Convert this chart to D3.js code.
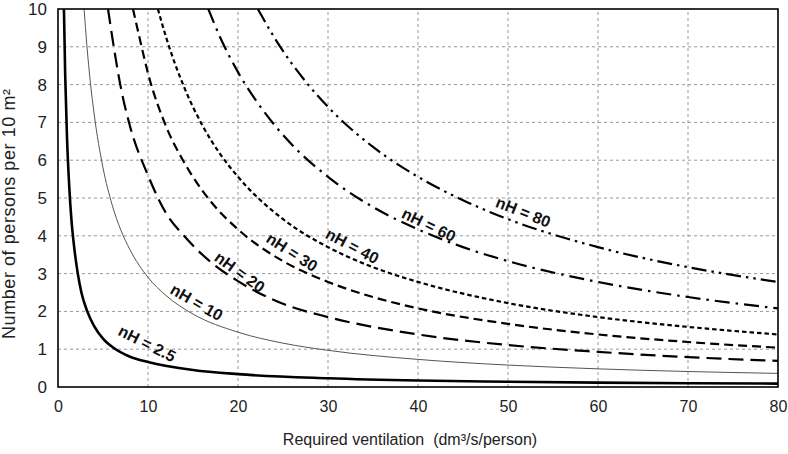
<!DOCTYPE html>
<html>
<head>
<meta charset="utf-8">
<script src="https://cdn.jsdelivr.net/npm/d3@7"></script>
<style>
  body { margin: 0; background: #fff; }
  text { font-family: Arial, "Liberation Sans", sans-serif; fill: #222; }
</style>
</head>
<body>
<div id="chart"></div>
<script>
// values (ventilation, persons per 10 m2)
var curveNames = ["2.5", "10", "20", "30", "40", "60", "80"];

var xs25 = [0.66, 0.8, 1, 1.25, 1.5, 1.75, 2.2, 2.6, 3.25, 4, 5, 6.2, 8, 10, 15, 20, 30, 40, 50, 60, 70, 80];
var ys25 = [10, 8.25, 6.6, 5.3, 4.4, 3.8, 3.0, 2.5, 2.0, 1.62, 1.28, 1.03, 0.8, 0.66, 0.45, 0.34, 0.23, 0.17, 0.14, 0.115, 0.1, 0.09];

var xs10 = [2.9, 3.2, 3.6, 4, 5, 6, 7, 8, 10, 12, 15, 20, 25, 30, 40, 50, 60, 70, 80];
var ys10 = [10, 9.06, 8.05, 7.25, 5.8, 4.83, 4.14, 3.63, 2.9, 2.42, 1.93, 1.45, 1.16, 0.97, 0.73, 0.58, 0.48, 0.41, 0.36];

var xs20 = [5.56, 6, 7, 8, 10, 12, 14, 17, 20, 25, 30, 40, 50, 60, 70, 80];
var ys20 = [10, 9.3, 7.9, 6.9, 5.6, 4.6, 4.0, 3.3, 2.8, 2.2, 1.85, 1.39, 1.11, 0.93, 0.79, 0.69];

var xs30 = [8.33, 9, 10, 12, 14, 17, 20, 25, 30, 35, 40, 50, 60, 70, 80];
var ys30 = [10, 9.3, 8.3, 6.9, 5.95, 4.9, 4.17, 3.33, 2.78, 2.38, 2.08, 1.67, 1.39, 1.19, 1.04];

var xs40 = [11.1, 12, 14, 16, 18, 20, 25, 30, 35, 40, 50, 60, 70, 80];
var ys40 = [10, 9.26, 7.94, 6.94, 6.17, 5.56, 4.44, 3.7, 3.17, 2.78, 2.22, 1.85, 1.59, 1.39];

var xs60 = [16.7, 18, 20, 23, 26, 30, 35, 40, 45, 50, 60, 70, 80];
var ys60 = [10, 9.26, 8.33, 7.25, 6.41, 5.56, 4.76, 4.17, 3.7, 3.33, 2.78, 2.38, 2.08];

var xs80 = [22.2, 24, 26, 28, 30, 35, 40, 45, 50, 60, 70, 80];
var ys80 = [10, 9.26, 8.55, 7.94, 7.41, 6.35, 5.56, 4.94, 4.44, 3.7, 3.17, 2.78];

var xTicks = [0, 10, 20, 30, 40, 50, 60, 70, 80];
var yTicks = [0, 1, 2, 3, 4, 5, 6, 7, 8, 9, 10];

// label centres (x value, y value) and text angle
var labelX = [9.9, 15.4, 20.2, 26.0, 32.7, 41.2, 51.7];
var labelY = [1.15, 2.24, 3.04, 3.57, 3.73, 4.29, 4.63];
var labelAngle = [27, 30, 36, 33, 28, 26, 22];

var w = 788, h = 454;
var margin = { left: 58, right: 10, top: 9, bottom: 67 };

var svg = d3.select("#chart").append("svg")
    .attr("width", w)
    .attr("height", h);

var x = d3.scaleLinear().domain([0, 80]).range([margin.left, w - margin.right]);
var y = d3.scaleLinear().domain([0, 10]).range([h - margin.bottom, margin.top]);

// grid
svg.append("g").selectAll("line")
    .data(xTicks.slice(1, -1))
    .enter().append("line")
    .attr("x1", function(d) { return x(d); })
    .attr("x2", function(d) { return x(d); })
    .attr("y1", y(0)).attr("y2", y(10))
    .attr("stroke", "#999").attr("stroke-width", 1)
    .attr("stroke-dasharray", "3,3");

svg.append("g").selectAll("line")
    .data(yTicks.slice(1, -1))
    .enter().append("line")
    .attr("y1", function(d) { return y(d); })
    .attr("y2", function(d) { return y(d); })
    .attr("x1", x(0)).attr("x2", x(80))
    .attr("stroke", "#999").attr("stroke-width", 1)
    .attr("stroke-dasharray", "3,3");

// curves
var series = [
    { xs: xs25, ys: ys25, width: 2.6, color: "#000", dash: null },
    { xs: xs10, ys: ys10, width: 1, color: "#555", dash: null },
    { xs: xs20, ys: ys20, width: 2.2, color: "#000", dash: "15,7" },
    { xs: xs30, ys: ys30, width: 2.2, color: "#000", dash: "9,5" },
    { xs: xs40, ys: ys40, width: 2.2, color: "#000", dash: "4.5,3" },
    { xs: xs60, ys: ys60, width: 2.2, color: "#000", dash: "15,6,2.5,6" },
    { xs: xs80, ys: ys80, width: 2.2, color: "#000", dash: "15,5,2.5,5,2.5,5" }
];

var line = d3.line()
    .x(function(d) { return x(d[0]); })
    .y(function(d) { return y(d[1]); })
    .curve(d3.curveMonotoneX);

svg.append("defs").append("clipPath").attr("id", "plotClip")
    .append("rect")
    .attr("x", x(0)).attr("y", y(10))
    .attr("width", x(80) - x(0)).attr("height", y(0) - y(10));

var plot = svg.append("g").attr("clip-path", "url(#plotClip)");

series.forEach(function(s) {
    var pts = s.xs.map(function(v, i) { return [v, s.ys[i]]; });
    plot.append("path")
        .attr("d", line(pts))
        .attr("fill", "none")
        .attr("stroke", s.color)
        .attr("stroke-width", s.width)
        .attr("stroke-dasharray", s.dash);
});

// curve labels
curveNames.forEach(function(name, i) {
    svg.append("text")
        .attr("transform", "translate(" + x(labelX[i]) + "," + y(labelY[i]) + ") rotate(" + labelAngle[i] + ")")
        .attr("text-anchor", "middle")
        .attr("dy", "0.35em")
        .attr("font-size", "16px")
        .attr("font-weight", "bold")
        .style("fill", "#111")
        .text("nH = " + name);
});

// frame
svg.append("rect")
    .attr("x", x(0)).attr("y", y(10))
    .attr("width", x(80) - x(0)).attr("height", y(0) - y(10))
    .attr("fill", "none")
    .attr("stroke", "#000")
    .attr("stroke-width", 1.6);

// tick labels
var xAxis = d3.axisBottom(x).tickValues(xTicks).tickSize(0).tickPadding(14);
svg.append("g")
    .attr("transform", "translate(0," + y(0) + ")")
    .call(xAxis)
    .call(function(g) { g.select(".domain").remove(); })
    .selectAll("text")
    .attr("font-size", "16px")
    .style("font-family", "Arial, 'Liberation Sans', sans-serif")
    .style("fill", "#222");

var yAxis = d3.axisLeft(y).tickValues(yTicks).tickSize(0).tickPadding(11);
svg.append("g")
    .attr("transform", "translate(" + x(0) + ",0)")
    .call(yAxis)
    .call(function(g) { g.select(".domain").remove(); })
    .selectAll("text")
    .attr("font-size", "17px")
    .style("font-family", "Arial, 'Liberation Sans', sans-serif")
    .style("fill", "#222");

// axis titles
svg.append("text")
    .attr("x", 410)
    .attr("y", 445)
    .attr("text-anchor", "middle")
    .attr("font-size", "16px")
    .style("white-space", "pre")
    .text("Required ventilation  (dm³/s/person)");

svg.append("text")
    .attr("transform", "translate(15,214) rotate(-90)")
    .attr("text-anchor", "middle")
    .attr("font-size", "18px")
    .attr("textLength", 250)
    .attr("lengthAdjust", "spacing")
    .text("Number of persons per 10 m²");
</script>
</body>
</html>
